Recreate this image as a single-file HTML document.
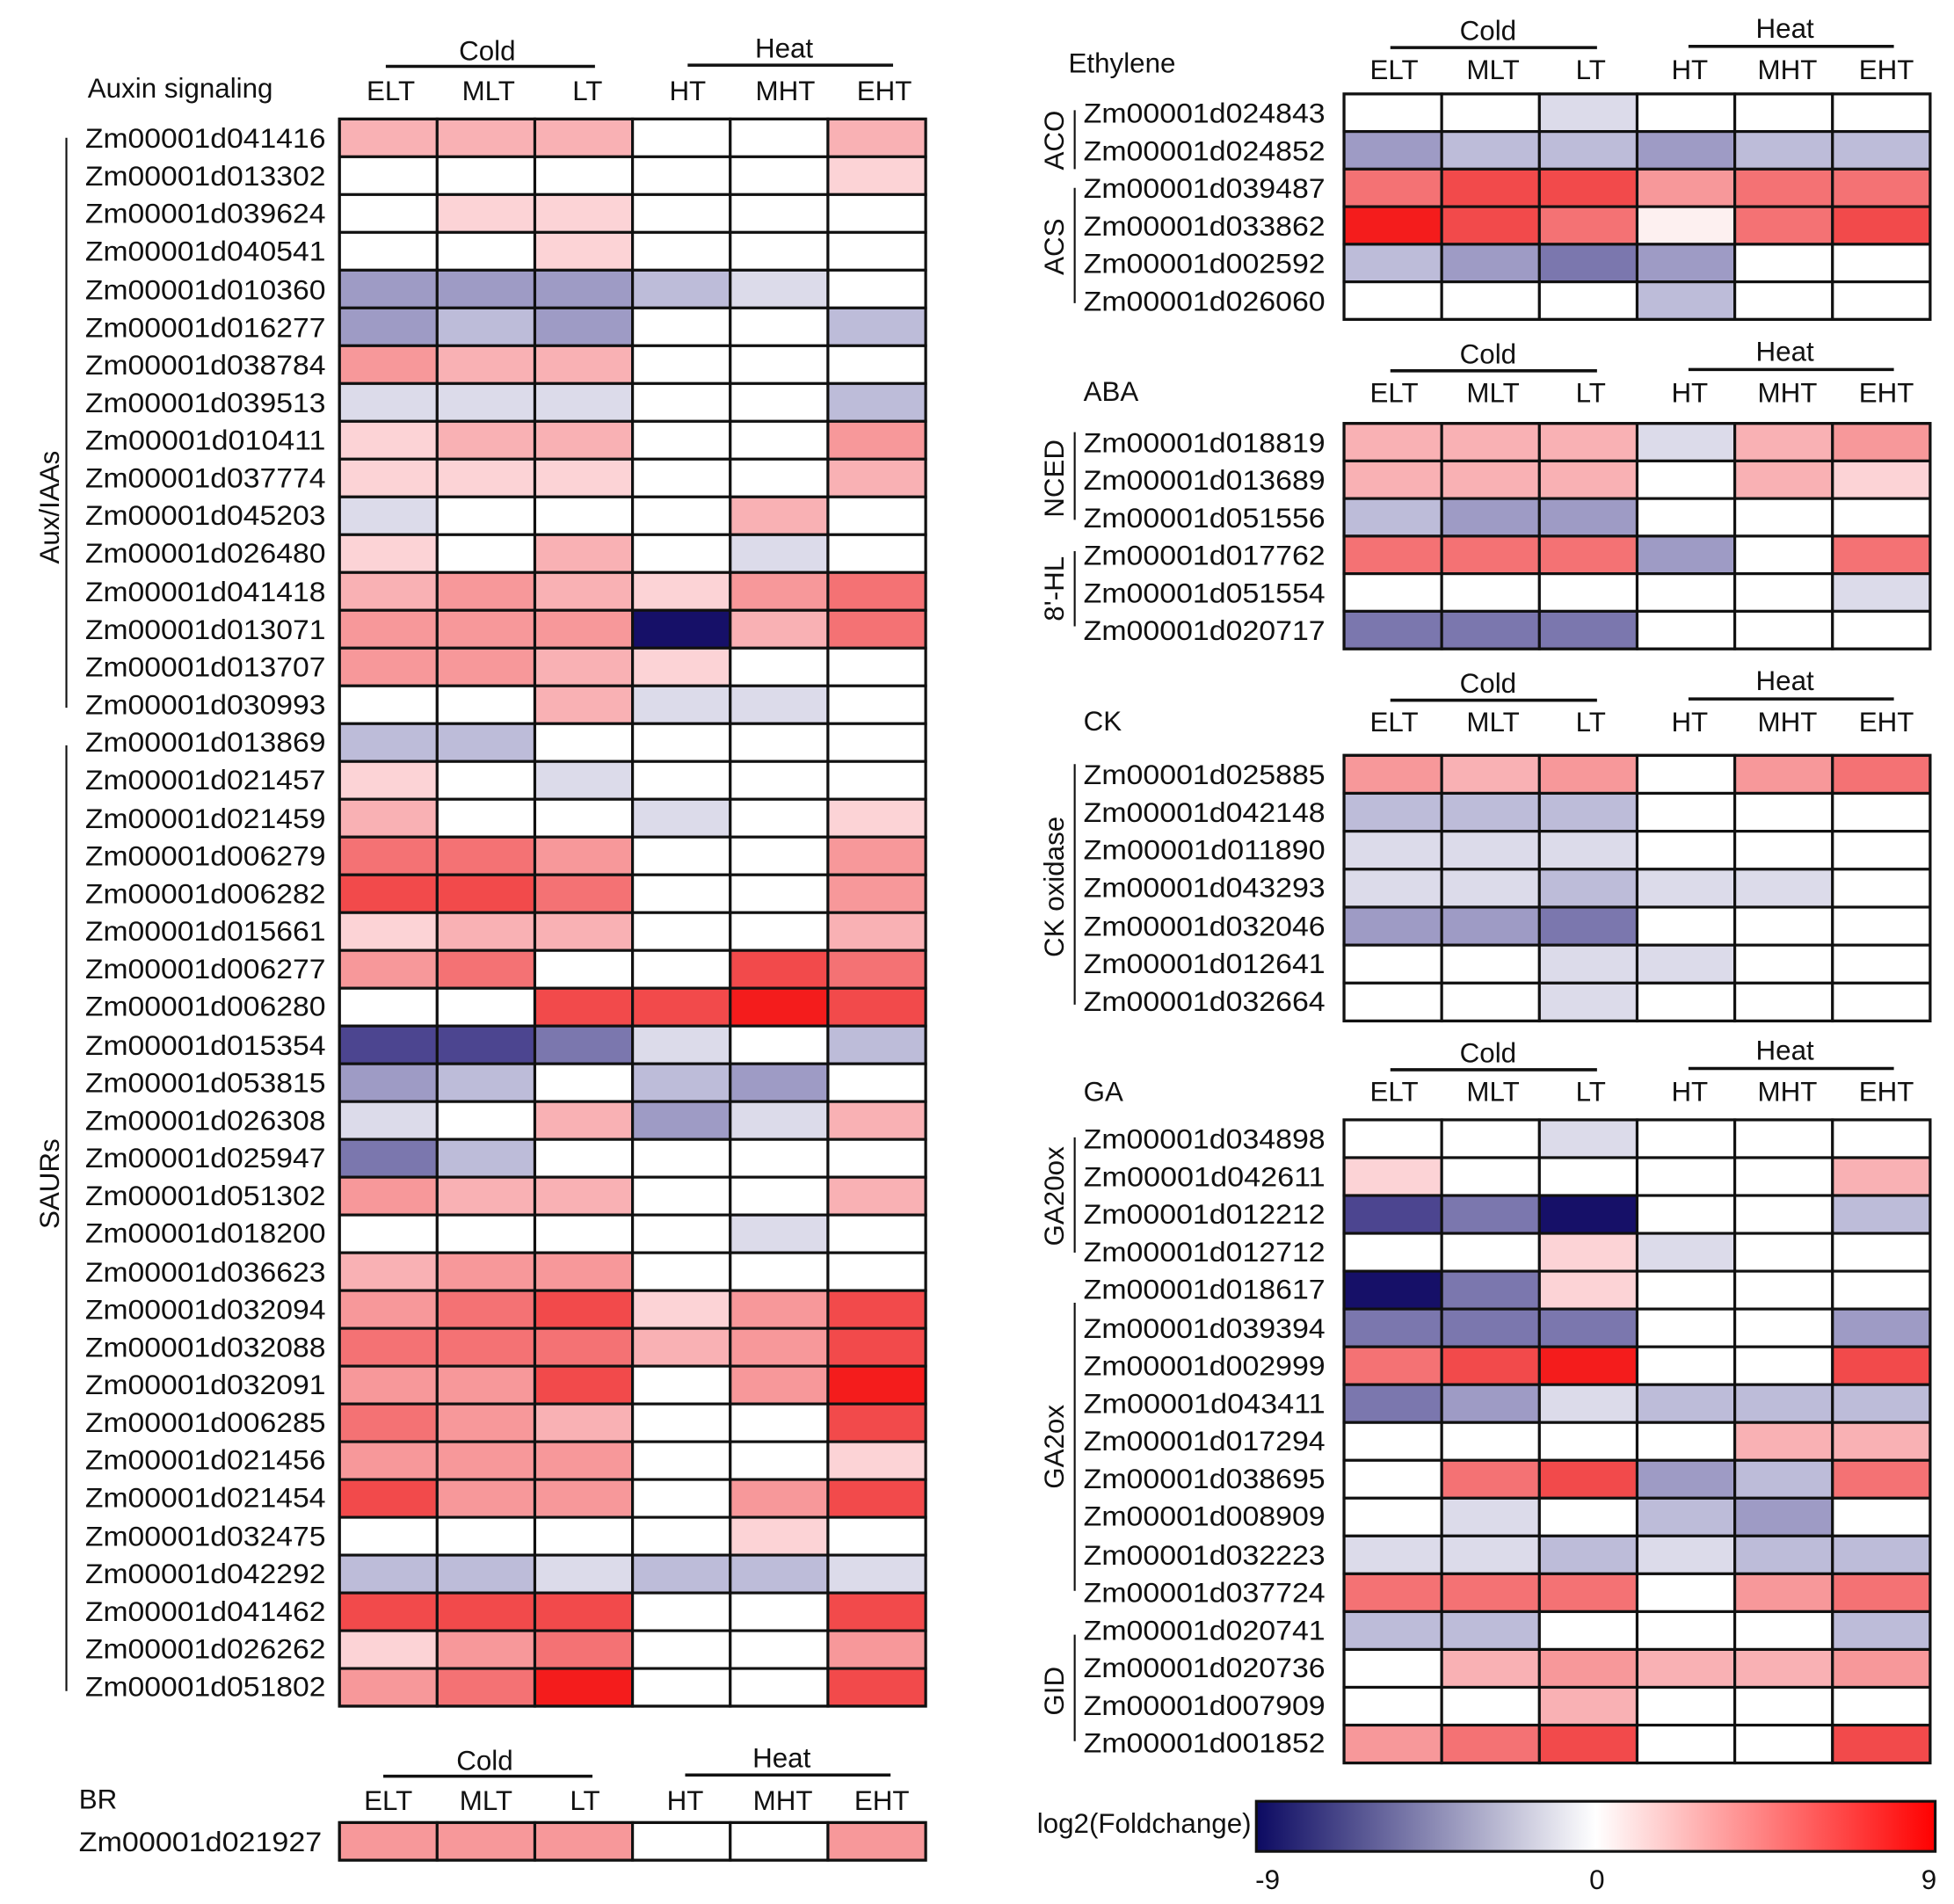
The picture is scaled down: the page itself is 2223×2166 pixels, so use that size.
<!DOCTYPE html>
<html><head><meta charset="utf-8"><style>
html,body{margin:0;padding:0;background:#fff}
svg{display:block}
text{font-family:"Liberation Sans",sans-serif;fill:#111}
.g{font-size:22px}
.h{font-size:22px}
rect{stroke:#111;stroke-width:2.2}
.w{fill:#fff}.r0{fill:#fdf0f0}.r1{fill:#fcd3d6}.r2{fill:#f9b1b4}.r3{fill:#f7989a}.r4{fill:#f47274}.r5{fill:#f24a4b}.r6{fill:#f41c1c}
.b1{fill:#dcdbea}.b2{fill:#bdbcd9}.b3{fill:#9e9bc5}.b4{fill:#7b77ae}.b5{fill:#4c4590}.b6{fill:#161068}
</style></head><body>
<svg width="2223" height="2166" viewBox="0 0 1560 1520" preserveAspectRatio="none" xmlns="http://www.w3.org/2000/svg">
<defs>
<g id="hdrL">
<text class="h" x="389" y="8" text-anchor="middle">Cold</text>
<line x1="308" y1="13" x2="475" y2="13" stroke="#111" stroke-width="2.5"/>
<text class="h" x="626" y="6" text-anchor="middle">Heat</text>
<line x1="549" y1="12" x2="713" y2="12" stroke="#111" stroke-width="2.5"/>
<text class="h" x="312" y="40" text-anchor="middle">ELT</text>
<text class="h" x="390" y="40" text-anchor="middle">MLT</text>
<text class="h" x="469" y="40" text-anchor="middle">LT</text>
<text class="h" x="549" y="40" text-anchor="middle">HT</text>
<text class="h" x="627" y="40" text-anchor="middle">MHT</text>
<text class="h" x="706" y="40" text-anchor="middle">EHT</text>
</g>
<g id="hdrR">
<text class="h" x="1188" y="8" text-anchor="middle">Cold</text>
<line x1="1110" y1="14" x2="1275" y2="14" stroke="#111" stroke-width="2.5"/>
<text class="h" x="1425" y="6" text-anchor="middle">Heat</text>
<line x1="1348" y1="13" x2="1512" y2="13" stroke="#111" stroke-width="2.5"/>
<text class="h" x="1113" y="39" text-anchor="middle">ELT</text>
<text class="h" x="1192" y="39" text-anchor="middle">MLT</text>
<text class="h" x="1270" y="39" text-anchor="middle">LT</text>
<text class="h" x="1349" y="39" text-anchor="middle">HT</text>
<text class="h" x="1427" y="39" text-anchor="middle">MHT</text>
<text class="h" x="1506" y="39" text-anchor="middle">EHT</text>
</g>
<linearGradient id="cb" x1="0" x2="1" y1="0" y2="0">
<stop offset="0" stop-color="#0c0a62"/><stop offset="0.5" stop-color="#ffffff"/><stop offset="1" stop-color="#ff0000"/>
</linearGradient>
</defs>

<!-- LEFT PANEL -->
<use href="#hdrL" y="40"/>
<text class="h" x="70" y="78">Auxin signaling</text>
<line x1="53" y1="110" x2="53" y2="565" stroke="#111" stroke-width="1.5"/>
<line x1="53" y1="595" x2="53" y2="1350" stroke="#111" stroke-width="1.5"/>
<text class="h" transform="translate(47,405) rotate(-90)" text-anchor="middle">Aux/IAAs</text>
<text class="h" transform="translate(47,945) rotate(-90)" text-anchor="middle">SAURs</text>
<g id="L">
<text class="g" x="68" y="118" textLength="192" lengthAdjust="spacingAndGlyphs">Zm00001d041416</text><rect x="271" y="95" width="78" height="30.17" class="r2"/><rect x="349" y="95" width="78" height="30.17" class="r2"/><rect x="427" y="95" width="78" height="30.17" class="r2"/><rect x="505" y="95" width="78" height="30.17" class="w"/><rect x="583" y="95" width="78" height="30.17" class="w"/><rect x="661" y="95" width="78" height="30.17" class="r2"/>
<text class="g" x="68" y="148" textLength="192" lengthAdjust="spacingAndGlyphs">Zm00001d013302</text><rect x="271" y="125.17" width="78" height="30.17" class="w"/><rect x="349" y="125.17" width="78" height="30.17" class="w"/><rect x="427" y="125.17" width="78" height="30.17" class="w"/><rect x="505" y="125.17" width="78" height="30.17" class="w"/><rect x="583" y="125.17" width="78" height="30.17" class="w"/><rect x="661" y="125.17" width="78" height="30.17" class="r1"/>
<text class="g" x="68" y="178" textLength="192" lengthAdjust="spacingAndGlyphs">Zm00001d039624</text><rect x="271" y="155.34" width="78" height="30.17" class="w"/><rect x="349" y="155.34" width="78" height="30.17" class="r1"/><rect x="427" y="155.34" width="78" height="30.17" class="r1"/><rect x="505" y="155.34" width="78" height="30.17" class="w"/><rect x="583" y="155.34" width="78" height="30.17" class="w"/><rect x="661" y="155.34" width="78" height="30.17" class="w"/>
<text class="g" x="68" y="208" textLength="192" lengthAdjust="spacingAndGlyphs">Zm00001d040541</text><rect x="271" y="185.51" width="78" height="30.17" class="w"/><rect x="349" y="185.51" width="78" height="30.17" class="w"/><rect x="427" y="185.51" width="78" height="30.17" class="r1"/><rect x="505" y="185.51" width="78" height="30.17" class="w"/><rect x="583" y="185.51" width="78" height="30.17" class="w"/><rect x="661" y="185.51" width="78" height="30.17" class="w"/>
<text class="g" x="68" y="239" textLength="192" lengthAdjust="spacingAndGlyphs">Zm00001d010360</text><rect x="271" y="215.68" width="78" height="30.17" class="b3"/><rect x="349" y="215.68" width="78" height="30.17" class="b3"/><rect x="427" y="215.68" width="78" height="30.17" class="b3"/><rect x="505" y="215.68" width="78" height="30.17" class="b2"/><rect x="583" y="215.68" width="78" height="30.17" class="b1"/><rect x="661" y="215.68" width="78" height="30.17" class="w"/>
<text class="g" x="68" y="269" textLength="192" lengthAdjust="spacingAndGlyphs">Zm00001d016277</text><rect x="271" y="245.85" width="78" height="30.17" class="b3"/><rect x="349" y="245.85" width="78" height="30.17" class="b2"/><rect x="427" y="245.85" width="78" height="30.17" class="b3"/><rect x="505" y="245.85" width="78" height="30.17" class="w"/><rect x="583" y="245.85" width="78" height="30.17" class="w"/><rect x="661" y="245.85" width="78" height="30.17" class="b2"/>
<text class="g" x="68" y="299" textLength="192" lengthAdjust="spacingAndGlyphs">Zm00001d038784</text><rect x="271" y="276.02" width="78" height="30.17" class="r3"/><rect x="349" y="276.02" width="78" height="30.17" class="r2"/><rect x="427" y="276.02" width="78" height="30.17" class="r2"/><rect x="505" y="276.02" width="78" height="30.17" class="w"/><rect x="583" y="276.02" width="78" height="30.17" class="w"/><rect x="661" y="276.02" width="78" height="30.17" class="w"/>
<text class="g" x="68" y="329" textLength="192" lengthAdjust="spacingAndGlyphs">Zm00001d039513</text><rect x="271" y="306.19" width="78" height="30.17" class="b1"/><rect x="349" y="306.19" width="78" height="30.17" class="b1"/><rect x="427" y="306.19" width="78" height="30.17" class="b1"/><rect x="505" y="306.19" width="78" height="30.17" class="w"/><rect x="583" y="306.19" width="78" height="30.17" class="w"/><rect x="661" y="306.19" width="78" height="30.17" class="b2"/>
<text class="g" x="68" y="359" textLength="192" lengthAdjust="spacingAndGlyphs">Zm00001d010411</text><rect x="271" y="336.36" width="78" height="30.17" class="r1"/><rect x="349" y="336.36" width="78" height="30.17" class="r2"/><rect x="427" y="336.36" width="78" height="30.17" class="r2"/><rect x="505" y="336.36" width="78" height="30.17" class="w"/><rect x="583" y="336.36" width="78" height="30.17" class="w"/><rect x="661" y="336.36" width="78" height="30.17" class="r3"/>
<text class="g" x="68" y="389" textLength="192" lengthAdjust="spacingAndGlyphs">Zm00001d037774</text><rect x="271" y="366.53" width="78" height="30.17" class="r1"/><rect x="349" y="366.53" width="78" height="30.17" class="r1"/><rect x="427" y="366.53" width="78" height="30.17" class="r1"/><rect x="505" y="366.53" width="78" height="30.17" class="w"/><rect x="583" y="366.53" width="78" height="30.17" class="w"/><rect x="661" y="366.53" width="78" height="30.17" class="r2"/>
<text class="g" x="68" y="419" textLength="192" lengthAdjust="spacingAndGlyphs">Zm00001d045203</text><rect x="271" y="396.7" width="78" height="30.17" class="b1"/><rect x="349" y="396.7" width="78" height="30.17" class="w"/><rect x="427" y="396.7" width="78" height="30.17" class="w"/><rect x="505" y="396.7" width="78" height="30.17" class="w"/><rect x="583" y="396.7" width="78" height="30.17" class="r2"/><rect x="661" y="396.7" width="78" height="30.17" class="w"/>
<text class="g" x="68" y="449" textLength="192" lengthAdjust="spacingAndGlyphs">Zm00001d026480</text><rect x="271" y="426.87" width="78" height="30.17" class="r1"/><rect x="349" y="426.87" width="78" height="30.17" class="w"/><rect x="427" y="426.87" width="78" height="30.17" class="r2"/><rect x="505" y="426.87" width="78" height="30.17" class="w"/><rect x="583" y="426.87" width="78" height="30.17" class="b1"/><rect x="661" y="426.87" width="78" height="30.17" class="w"/>
<text class="g" x="68" y="480" textLength="192" lengthAdjust="spacingAndGlyphs">Zm00001d041418</text><rect x="271" y="457.04" width="78" height="30.17" class="r2"/><rect x="349" y="457.04" width="78" height="30.17" class="r3"/><rect x="427" y="457.04" width="78" height="30.17" class="r2"/><rect x="505" y="457.04" width="78" height="30.17" class="r1"/><rect x="583" y="457.04" width="78" height="30.17" class="r3"/><rect x="661" y="457.04" width="78" height="30.17" class="r4"/>
<text class="g" x="68" y="510" textLength="192" lengthAdjust="spacingAndGlyphs">Zm00001d013071</text><rect x="271" y="487.21" width="78" height="30.17" class="r3"/><rect x="349" y="487.21" width="78" height="30.17" class="r3"/><rect x="427" y="487.21" width="78" height="30.17" class="r3"/><rect x="505" y="487.21" width="78" height="30.17" class="b6"/><rect x="583" y="487.21" width="78" height="30.17" class="r2"/><rect x="661" y="487.21" width="78" height="30.17" class="r4"/>
<text class="g" x="68" y="540" textLength="192" lengthAdjust="spacingAndGlyphs">Zm00001d013707</text><rect x="271" y="517.38" width="78" height="30.17" class="r3"/><rect x="349" y="517.38" width="78" height="30.17" class="r3"/><rect x="427" y="517.38" width="78" height="30.17" class="r2"/><rect x="505" y="517.38" width="78" height="30.17" class="r1"/><rect x="583" y="517.38" width="78" height="30.17" class="w"/><rect x="661" y="517.38" width="78" height="30.17" class="w"/>
<text class="g" x="68" y="570" textLength="192" lengthAdjust="spacingAndGlyphs">Zm00001d030993</text><rect x="271" y="547.55" width="78" height="30.17" class="w"/><rect x="349" y="547.55" width="78" height="30.17" class="w"/><rect x="427" y="547.55" width="78" height="30.17" class="r2"/><rect x="505" y="547.55" width="78" height="30.17" class="b1"/><rect x="583" y="547.55" width="78" height="30.17" class="b1"/><rect x="661" y="547.55" width="78" height="30.17" class="w"/>
<text class="g" x="68" y="600" textLength="192" lengthAdjust="spacingAndGlyphs">Zm00001d013869</text><rect x="271" y="577.72" width="78" height="30.17" class="b2"/><rect x="349" y="577.72" width="78" height="30.17" class="b2"/><rect x="427" y="577.72" width="78" height="30.17" class="w"/><rect x="505" y="577.72" width="78" height="30.17" class="w"/><rect x="583" y="577.72" width="78" height="30.17" class="w"/><rect x="661" y="577.72" width="78" height="30.17" class="w"/>
<text class="g" x="68" y="630" textLength="192" lengthAdjust="spacingAndGlyphs">Zm00001d021457</text><rect x="271" y="607.89" width="78" height="30.17" class="r1"/><rect x="349" y="607.89" width="78" height="30.17" class="w"/><rect x="427" y="607.89" width="78" height="30.17" class="b1"/><rect x="505" y="607.89" width="78" height="30.17" class="w"/><rect x="583" y="607.89" width="78" height="30.17" class="w"/><rect x="661" y="607.89" width="78" height="30.17" class="w"/>
<text class="g" x="68" y="661" textLength="192" lengthAdjust="spacingAndGlyphs">Zm00001d021459</text><rect x="271" y="638.06" width="78" height="30.17" class="r2"/><rect x="349" y="638.06" width="78" height="30.17" class="w"/><rect x="427" y="638.06" width="78" height="30.17" class="w"/><rect x="505" y="638.06" width="78" height="30.17" class="b1"/><rect x="583" y="638.06" width="78" height="30.17" class="w"/><rect x="661" y="638.06" width="78" height="30.17" class="r1"/>
<text class="g" x="68" y="691" textLength="192" lengthAdjust="spacingAndGlyphs">Zm00001d006279</text><rect x="271" y="668.23" width="78" height="30.17" class="r4"/><rect x="349" y="668.23" width="78" height="30.17" class="r4"/><rect x="427" y="668.23" width="78" height="30.17" class="r3"/><rect x="505" y="668.23" width="78" height="30.17" class="w"/><rect x="583" y="668.23" width="78" height="30.17" class="w"/><rect x="661" y="668.23" width="78" height="30.17" class="r3"/>
<text class="g" x="68" y="721" textLength="192" lengthAdjust="spacingAndGlyphs">Zm00001d006282</text><rect x="271" y="698.4" width="78" height="30.17" class="r5"/><rect x="349" y="698.4" width="78" height="30.17" class="r5"/><rect x="427" y="698.4" width="78" height="30.17" class="r4"/><rect x="505" y="698.4" width="78" height="30.17" class="w"/><rect x="583" y="698.4" width="78" height="30.17" class="w"/><rect x="661" y="698.4" width="78" height="30.17" class="r3"/>
<text class="g" x="68" y="751" textLength="192" lengthAdjust="spacingAndGlyphs">Zm00001d015661</text><rect x="271" y="728.57" width="78" height="30.17" class="r1"/><rect x="349" y="728.57" width="78" height="30.17" class="r2"/><rect x="427" y="728.57" width="78" height="30.17" class="r2"/><rect x="505" y="728.57" width="78" height="30.17" class="w"/><rect x="583" y="728.57" width="78" height="30.17" class="w"/><rect x="661" y="728.57" width="78" height="30.17" class="r2"/>
<text class="g" x="68" y="781" textLength="192" lengthAdjust="spacingAndGlyphs">Zm00001d006277</text><rect x="271" y="758.74" width="78" height="30.17" class="r3"/><rect x="349" y="758.74" width="78" height="30.17" class="r4"/><rect x="427" y="758.74" width="78" height="30.17" class="w"/><rect x="505" y="758.74" width="78" height="30.17" class="w"/><rect x="583" y="758.74" width="78" height="30.17" class="r5"/><rect x="661" y="758.74" width="78" height="30.17" class="r4"/>
<text class="g" x="68" y="811" textLength="192" lengthAdjust="spacingAndGlyphs">Zm00001d006280</text><rect x="271" y="788.91" width="78" height="30.17" class="w"/><rect x="349" y="788.91" width="78" height="30.17" class="w"/><rect x="427" y="788.91" width="78" height="30.17" class="r5"/><rect x="505" y="788.91" width="78" height="30.17" class="r5"/><rect x="583" y="788.91" width="78" height="30.17" class="r6"/><rect x="661" y="788.91" width="78" height="30.17" class="r5"/>
<text class="g" x="68" y="842" textLength="192" lengthAdjust="spacingAndGlyphs">Zm00001d015354</text><rect x="271" y="819.08" width="78" height="30.17" class="b5"/><rect x="349" y="819.08" width="78" height="30.17" class="b5"/><rect x="427" y="819.08" width="78" height="30.17" class="b4"/><rect x="505" y="819.08" width="78" height="30.17" class="b1"/><rect x="583" y="819.08" width="78" height="30.17" class="w"/><rect x="661" y="819.08" width="78" height="30.17" class="b2"/>
<text class="g" x="68" y="872" textLength="192" lengthAdjust="spacingAndGlyphs">Zm00001d053815</text><rect x="271" y="849.25" width="78" height="30.17" class="b3"/><rect x="349" y="849.25" width="78" height="30.17" class="b2"/><rect x="427" y="849.25" width="78" height="30.17" class="w"/><rect x="505" y="849.25" width="78" height="30.17" class="b2"/><rect x="583" y="849.25" width="78" height="30.17" class="b3"/><rect x="661" y="849.25" width="78" height="30.17" class="w"/>
<text class="g" x="68" y="902" textLength="192" lengthAdjust="spacingAndGlyphs">Zm00001d026308</text><rect x="271" y="879.42" width="78" height="30.17" class="b1"/><rect x="349" y="879.42" width="78" height="30.17" class="w"/><rect x="427" y="879.42" width="78" height="30.17" class="r2"/><rect x="505" y="879.42" width="78" height="30.17" class="b3"/><rect x="583" y="879.42" width="78" height="30.17" class="b1"/><rect x="661" y="879.42" width="78" height="30.17" class="r2"/>
<text class="g" x="68" y="932" textLength="192" lengthAdjust="spacingAndGlyphs">Zm00001d025947</text><rect x="271" y="909.59" width="78" height="30.17" class="b4"/><rect x="349" y="909.59" width="78" height="30.17" class="b2"/><rect x="427" y="909.59" width="78" height="30.17" class="w"/><rect x="505" y="909.59" width="78" height="30.17" class="w"/><rect x="583" y="909.59" width="78" height="30.17" class="w"/><rect x="661" y="909.59" width="78" height="30.17" class="w"/>
<text class="g" x="68" y="962" textLength="192" lengthAdjust="spacingAndGlyphs">Zm00001d051302</text><rect x="271" y="939.76" width="78" height="30.17" class="r3"/><rect x="349" y="939.76" width="78" height="30.17" class="r2"/><rect x="427" y="939.76" width="78" height="30.17" class="r2"/><rect x="505" y="939.76" width="78" height="30.17" class="w"/><rect x="583" y="939.76" width="78" height="30.17" class="w"/><rect x="661" y="939.76" width="78" height="30.17" class="r2"/>
<text class="g" x="68" y="992" textLength="192" lengthAdjust="spacingAndGlyphs">Zm00001d018200</text><rect x="271" y="969.93" width="78" height="30.17" class="w"/><rect x="349" y="969.93" width="78" height="30.17" class="w"/><rect x="427" y="969.93" width="78" height="30.17" class="w"/><rect x="505" y="969.93" width="78" height="30.17" class="w"/><rect x="583" y="969.93" width="78" height="30.17" class="b1"/><rect x="661" y="969.93" width="78" height="30.17" class="w"/>
<text class="g" x="68" y="1023" textLength="192" lengthAdjust="spacingAndGlyphs">Zm00001d036623</text><rect x="271" y="1000.1" width="78" height="30.17" class="r2"/><rect x="349" y="1000.1" width="78" height="30.17" class="r3"/><rect x="427" y="1000.1" width="78" height="30.17" class="r3"/><rect x="505" y="1000.1" width="78" height="30.17" class="w"/><rect x="583" y="1000.1" width="78" height="30.17" class="w"/><rect x="661" y="1000.1" width="78" height="30.17" class="w"/>
<text class="g" x="68" y="1053" textLength="192" lengthAdjust="spacingAndGlyphs">Zm00001d032094</text><rect x="271" y="1030.27" width="78" height="30.17" class="r3"/><rect x="349" y="1030.27" width="78" height="30.17" class="r4"/><rect x="427" y="1030.27" width="78" height="30.17" class="r5"/><rect x="505" y="1030.27" width="78" height="30.17" class="r1"/><rect x="583" y="1030.27" width="78" height="30.17" class="r3"/><rect x="661" y="1030.27" width="78" height="30.17" class="r5"/>
<text class="g" x="68" y="1083" textLength="192" lengthAdjust="spacingAndGlyphs">Zm00001d032088</text><rect x="271" y="1060.44" width="78" height="30.17" class="r4"/><rect x="349" y="1060.44" width="78" height="30.17" class="r4"/><rect x="427" y="1060.44" width="78" height="30.17" class="r4"/><rect x="505" y="1060.44" width="78" height="30.17" class="r2"/><rect x="583" y="1060.44" width="78" height="30.17" class="r3"/><rect x="661" y="1060.44" width="78" height="30.17" class="r5"/>
<text class="g" x="68" y="1113" textLength="192" lengthAdjust="spacingAndGlyphs">Zm00001d032091</text><rect x="271" y="1090.61" width="78" height="30.17" class="r3"/><rect x="349" y="1090.61" width="78" height="30.17" class="r3"/><rect x="427" y="1090.61" width="78" height="30.17" class="r5"/><rect x="505" y="1090.61" width="78" height="30.17" class="w"/><rect x="583" y="1090.61" width="78" height="30.17" class="r3"/><rect x="661" y="1090.61" width="78" height="30.17" class="r6"/>
<text class="g" x="68" y="1143" textLength="192" lengthAdjust="spacingAndGlyphs">Zm00001d006285</text><rect x="271" y="1120.78" width="78" height="30.17" class="r4"/><rect x="349" y="1120.78" width="78" height="30.17" class="r3"/><rect x="427" y="1120.78" width="78" height="30.17" class="r2"/><rect x="505" y="1120.78" width="78" height="30.17" class="w"/><rect x="583" y="1120.78" width="78" height="30.17" class="w"/><rect x="661" y="1120.78" width="78" height="30.17" class="r5"/>
<text class="g" x="68" y="1173" textLength="192" lengthAdjust="spacingAndGlyphs">Zm00001d021456</text><rect x="271" y="1150.95" width="78" height="30.17" class="r3"/><rect x="349" y="1150.95" width="78" height="30.17" class="r3"/><rect x="427" y="1150.95" width="78" height="30.17" class="r3"/><rect x="505" y="1150.95" width="78" height="30.17" class="w"/><rect x="583" y="1150.95" width="78" height="30.17" class="w"/><rect x="661" y="1150.95" width="78" height="30.17" class="r1"/>
<text class="g" x="68" y="1203" textLength="192" lengthAdjust="spacingAndGlyphs">Zm00001d021454</text><rect x="271" y="1181.12" width="78" height="30.17" class="r5"/><rect x="349" y="1181.12" width="78" height="30.17" class="r3"/><rect x="427" y="1181.12" width="78" height="30.17" class="r3"/><rect x="505" y="1181.12" width="78" height="30.17" class="w"/><rect x="583" y="1181.12" width="78" height="30.17" class="r3"/><rect x="661" y="1181.12" width="78" height="30.17" class="r5"/>
<text class="g" x="68" y="1234" textLength="192" lengthAdjust="spacingAndGlyphs">Zm00001d032475</text><rect x="271" y="1211.29" width="78" height="30.17" class="w"/><rect x="349" y="1211.29" width="78" height="30.17" class="w"/><rect x="427" y="1211.29" width="78" height="30.17" class="w"/><rect x="505" y="1211.29" width="78" height="30.17" class="w"/><rect x="583" y="1211.29" width="78" height="30.17" class="r1"/><rect x="661" y="1211.29" width="78" height="30.17" class="w"/>
<text class="g" x="68" y="1264" textLength="192" lengthAdjust="spacingAndGlyphs">Zm00001d042292</text><rect x="271" y="1241.46" width="78" height="30.17" class="b2"/><rect x="349" y="1241.46" width="78" height="30.17" class="b2"/><rect x="427" y="1241.46" width="78" height="30.17" class="b1"/><rect x="505" y="1241.46" width="78" height="30.17" class="b2"/><rect x="583" y="1241.46" width="78" height="30.17" class="b2"/><rect x="661" y="1241.46" width="78" height="30.17" class="b1"/>
<text class="g" x="68" y="1294" textLength="192" lengthAdjust="spacingAndGlyphs">Zm00001d041462</text><rect x="271" y="1271.63" width="78" height="30.17" class="r5"/><rect x="349" y="1271.63" width="78" height="30.17" class="r5"/><rect x="427" y="1271.63" width="78" height="30.17" class="r5"/><rect x="505" y="1271.63" width="78" height="30.17" class="w"/><rect x="583" y="1271.63" width="78" height="30.17" class="w"/><rect x="661" y="1271.63" width="78" height="30.17" class="r5"/>
<text class="g" x="68" y="1324" textLength="192" lengthAdjust="spacingAndGlyphs">Zm00001d026262</text><rect x="271" y="1301.8" width="78" height="30.17" class="r1"/><rect x="349" y="1301.8" width="78" height="30.17" class="r3"/><rect x="427" y="1301.8" width="78" height="30.17" class="r4"/><rect x="505" y="1301.8" width="78" height="30.17" class="w"/><rect x="583" y="1301.8" width="78" height="30.17" class="w"/><rect x="661" y="1301.8" width="78" height="30.17" class="r3"/>
<text class="g" x="68" y="1354" textLength="192" lengthAdjust="spacingAndGlyphs">Zm00001d051802</text><rect x="271" y="1331.97" width="78" height="30.17" class="r3"/><rect x="349" y="1331.97" width="78" height="30.17" class="r4"/><rect x="427" y="1331.97" width="78" height="30.17" class="r6"/><rect x="505" y="1331.97" width="78" height="30.17" class="w"/><rect x="583" y="1331.97" width="78" height="30.17" class="w"/><rect x="661" y="1331.97" width="78" height="30.17" class="r5"/>
</g>
<rect x="271" y="95" width="468" height="1267" fill="none" stroke-width="3"/>

<!-- BR -->
<use href="#hdrL" x="-2" y="1405"/>
<text class="h" x="63" y="1444">BR</text>
<text class="g" x="63" y="1478" textLength="194" lengthAdjust="spacingAndGlyphs">Zm00001d021927</text>
<rect x="271" y="1455" width="78" height="30" class="r3"/><rect x="349" y="1455" width="78" height="30" class="r3"/><rect x="427" y="1455" width="78" height="30" class="r3"/><rect x="505" y="1455" width="78" height="30" class="w"/><rect x="583" y="1455" width="78" height="30" class="w"/><rect x="661" y="1455" width="78" height="30" class="r3"/>
<rect x="271" y="1455" width="468" height="30" fill="none" stroke-width="3"/>

<!-- ETHYLENE -->
<use href="#hdrR" y="24"/>
<text class="h" x="853" y="58">Ethylene</text>
<line x1="858" y1="88" x2="858" y2="135" stroke="#111" stroke-width="1.5"/>
<line x1="858" y1="150" x2="858" y2="242" stroke="#111" stroke-width="1.5"/>
<text class="h" transform="translate(849,112) rotate(-90)" text-anchor="middle">ACO</text>
<text class="h" transform="translate(849,197) rotate(-90)" text-anchor="middle">ACS</text>
<text class="g" x="865" y="98" textLength="193" lengthAdjust="spacingAndGlyphs">Zm00001d024843</text><rect x="1073" y="75" width="78" height="30" class="w"/><rect x="1151" y="75" width="78" height="30" class="w"/><rect x="1229" y="75" width="78" height="30" class="b1"/><rect x="1307" y="75" width="78" height="30" class="w"/><rect x="1385" y="75" width="78" height="30" class="w"/><rect x="1463" y="75" width="78" height="30" class="w"/>
<text class="g" x="865" y="128" textLength="193" lengthAdjust="spacingAndGlyphs">Zm00001d024852</text><rect x="1073" y="105" width="78" height="30" class="b3"/><rect x="1151" y="105" width="78" height="30" class="b2"/><rect x="1229" y="105" width="78" height="30" class="b2"/><rect x="1307" y="105" width="78" height="30" class="b3"/><rect x="1385" y="105" width="78" height="30" class="b2"/><rect x="1463" y="105" width="78" height="30" class="b2"/>
<text class="g" x="865" y="158" textLength="193" lengthAdjust="spacingAndGlyphs">Zm00001d039487</text><rect x="1073" y="135" width="78" height="30" class="r4"/><rect x="1151" y="135" width="78" height="30" class="r5"/><rect x="1229" y="135" width="78" height="30" class="r5"/><rect x="1307" y="135" width="78" height="30" class="r3"/><rect x="1385" y="135" width="78" height="30" class="r4"/><rect x="1463" y="135" width="78" height="30" class="r4"/>
<text class="g" x="865" y="188" textLength="193" lengthAdjust="spacingAndGlyphs">Zm00001d033862</text><rect x="1073" y="165" width="78" height="30" class="r6"/><rect x="1151" y="165" width="78" height="30" class="r5"/><rect x="1229" y="165" width="78" height="30" class="r4"/><rect x="1307" y="165" width="78" height="30" class="r0"/><rect x="1385" y="165" width="78" height="30" class="r4"/><rect x="1463" y="165" width="78" height="30" class="r5"/>
<text class="g" x="865" y="218" textLength="193" lengthAdjust="spacingAndGlyphs">Zm00001d002592</text><rect x="1073" y="195" width="78" height="30" class="b2"/><rect x="1151" y="195" width="78" height="30" class="b3"/><rect x="1229" y="195" width="78" height="30" class="b4"/><rect x="1307" y="195" width="78" height="30" class="b3"/><rect x="1385" y="195" width="78" height="30" class="w"/><rect x="1463" y="195" width="78" height="30" class="w"/>
<text class="g" x="865" y="248" textLength="193" lengthAdjust="spacingAndGlyphs">Zm00001d026060</text><rect x="1073" y="225" width="78" height="30" class="w"/><rect x="1151" y="225" width="78" height="30" class="w"/><rect x="1229" y="225" width="78" height="30" class="w"/><rect x="1307" y="225" width="78" height="30" class="b2"/><rect x="1385" y="225" width="78" height="30" class="w"/><rect x="1463" y="225" width="78" height="30" class="w"/>
<rect x="1073" y="75" width="468" height="180" fill="none" stroke-width="3"/>

<!-- ABA -->
<use href="#hdrR" y="282"/>
<text class="h" x="865" y="320">ABA</text>
<line x1="858" y1="345" x2="858" y2="415" stroke="#111" stroke-width="1.5"/>
<line x1="858" y1="440" x2="858" y2="500" stroke="#111" stroke-width="1.5"/>
<text class="h" transform="translate(849,382) rotate(-90)" text-anchor="middle">NCED</text>
<text class="h" transform="translate(849,470) rotate(-90)" text-anchor="middle">8'-HL</text>
<text class="g" x="865" y="361" textLength="193" lengthAdjust="spacingAndGlyphs">Zm00001d018819</text><rect x="1073" y="338" width="78" height="30" class="r2"/><rect x="1151" y="338" width="78" height="30" class="r2"/><rect x="1229" y="338" width="78" height="30" class="r2"/><rect x="1307" y="338" width="78" height="30" class="b1"/><rect x="1385" y="338" width="78" height="30" class="r2"/><rect x="1463" y="338" width="78" height="30" class="r3"/>
<text class="g" x="865" y="391" textLength="193" lengthAdjust="spacingAndGlyphs">Zm00001d013689</text><rect x="1073" y="368" width="78" height="30" class="r2"/><rect x="1151" y="368" width="78" height="30" class="r2"/><rect x="1229" y="368" width="78" height="30" class="r2"/><rect x="1307" y="368" width="78" height="30" class="w"/><rect x="1385" y="368" width="78" height="30" class="r2"/><rect x="1463" y="368" width="78" height="30" class="r1"/>
<text class="g" x="865" y="421" textLength="193" lengthAdjust="spacingAndGlyphs">Zm00001d051556</text><rect x="1073" y="398" width="78" height="30" class="b2"/><rect x="1151" y="398" width="78" height="30" class="b3"/><rect x="1229" y="398" width="78" height="30" class="b3"/><rect x="1307" y="398" width="78" height="30" class="w"/><rect x="1385" y="398" width="78" height="30" class="w"/><rect x="1463" y="398" width="78" height="30" class="w"/>
<text class="g" x="865" y="451" textLength="193" lengthAdjust="spacingAndGlyphs">Zm00001d017762</text><rect x="1073" y="428" width="78" height="30" class="r4"/><rect x="1151" y="428" width="78" height="30" class="r4"/><rect x="1229" y="428" width="78" height="30" class="r4"/><rect x="1307" y="428" width="78" height="30" class="b3"/><rect x="1385" y="428" width="78" height="30" class="w"/><rect x="1463" y="428" width="78" height="30" class="r4"/>
<text class="g" x="865" y="481" textLength="193" lengthAdjust="spacingAndGlyphs">Zm00001d051554</text><rect x="1073" y="458" width="78" height="30" class="w"/><rect x="1151" y="458" width="78" height="30" class="w"/><rect x="1229" y="458" width="78" height="30" class="w"/><rect x="1307" y="458" width="78" height="30" class="w"/><rect x="1385" y="458" width="78" height="30" class="w"/><rect x="1463" y="458" width="78" height="30" class="b1"/>
<text class="g" x="865" y="511" textLength="193" lengthAdjust="spacingAndGlyphs">Zm00001d020717</text><rect x="1073" y="488" width="78" height="30" class="b4"/><rect x="1151" y="488" width="78" height="30" class="b4"/><rect x="1229" y="488" width="78" height="30" class="b4"/><rect x="1307" y="488" width="78" height="30" class="w"/><rect x="1385" y="488" width="78" height="30" class="w"/><rect x="1463" y="488" width="78" height="30" class="w"/>
<rect x="1073" y="338" width="468" height="180" fill="none" stroke-width="3"/>

<!-- CK -->
<use href="#hdrR" y="545"/>
<text class="h" x="865" y="583">CK</text>
<line x1="858" y1="610" x2="858" y2="802" stroke="#111" stroke-width="1.5"/>
<text class="h" transform="translate(849,708) rotate(-90)" text-anchor="middle">CK oxidase</text>
<text class="g" x="865" y="626" textLength="193" lengthAdjust="spacingAndGlyphs">Zm00001d025885</text><rect x="1073" y="603" width="78" height="30.3" class="r3"/><rect x="1151" y="603" width="78" height="30.3" class="r2"/><rect x="1229" y="603" width="78" height="30.3" class="r3"/><rect x="1307" y="603" width="78" height="30.3" class="w"/><rect x="1385" y="603" width="78" height="30.3" class="r3"/><rect x="1463" y="603" width="78" height="30.3" class="r4"/>
<text class="g" x="865" y="656" textLength="193" lengthAdjust="spacingAndGlyphs">Zm00001d042148</text><rect x="1073" y="633.3" width="78" height="30.3" class="b2"/><rect x="1151" y="633.3" width="78" height="30.3" class="b2"/><rect x="1229" y="633.3" width="78" height="30.3" class="b2"/><rect x="1307" y="633.3" width="78" height="30.3" class="w"/><rect x="1385" y="633.3" width="78" height="30.3" class="w"/><rect x="1463" y="633.3" width="78" height="30.3" class="w"/>
<text class="g" x="865" y="686" textLength="193" lengthAdjust="spacingAndGlyphs">Zm00001d011890</text><rect x="1073" y="663.6" width="78" height="30.3" class="b1"/><rect x="1151" y="663.6" width="78" height="30.3" class="b1"/><rect x="1229" y="663.6" width="78" height="30.3" class="b1"/><rect x="1307" y="663.6" width="78" height="30.3" class="w"/><rect x="1385" y="663.6" width="78" height="30.3" class="w"/><rect x="1463" y="663.6" width="78" height="30.3" class="w"/>
<text class="g" x="865" y="716" textLength="193" lengthAdjust="spacingAndGlyphs">Zm00001d043293</text><rect x="1073" y="693.9" width="78" height="30.3" class="b1"/><rect x="1151" y="693.9" width="78" height="30.3" class="b1"/><rect x="1229" y="693.9" width="78" height="30.3" class="b2"/><rect x="1307" y="693.9" width="78" height="30.3" class="b1"/><rect x="1385" y="693.9" width="78" height="30.3" class="b1"/><rect x="1463" y="693.9" width="78" height="30.3" class="w"/>
<text class="g" x="865" y="747" textLength="193" lengthAdjust="spacingAndGlyphs">Zm00001d032046</text><rect x="1073" y="724.2" width="78" height="30.3" class="b3"/><rect x="1151" y="724.2" width="78" height="30.3" class="b3"/><rect x="1229" y="724.2" width="78" height="30.3" class="b4"/><rect x="1307" y="724.2" width="78" height="30.3" class="w"/><rect x="1385" y="724.2" width="78" height="30.3" class="w"/><rect x="1463" y="724.2" width="78" height="30.3" class="w"/>
<text class="g" x="865" y="777" textLength="193" lengthAdjust="spacingAndGlyphs">Zm00001d012641</text><rect x="1073" y="754.5" width="78" height="30.3" class="w"/><rect x="1151" y="754.5" width="78" height="30.3" class="w"/><rect x="1229" y="754.5" width="78" height="30.3" class="b1"/><rect x="1307" y="754.5" width="78" height="30.3" class="b1"/><rect x="1385" y="754.5" width="78" height="30.3" class="w"/><rect x="1463" y="754.5" width="78" height="30.3" class="w"/>
<text class="g" x="865" y="807" textLength="193" lengthAdjust="spacingAndGlyphs">Zm00001d032664</text><rect x="1073" y="784.8" width="78" height="30.3" class="w"/><rect x="1151" y="784.8" width="78" height="30.3" class="w"/><rect x="1229" y="784.8" width="78" height="30.3" class="b1"/><rect x="1307" y="784.8" width="78" height="30.3" class="w"/><rect x="1385" y="784.8" width="78" height="30.3" class="w"/><rect x="1463" y="784.8" width="78" height="30.3" class="w"/>
<rect x="1073" y="603" width="468" height="212" fill="none" stroke-width="3"/>

<!-- GA -->
<use href="#hdrR" y="840"/>
<text class="h" x="865" y="879">GA</text>
<line x1="858" y1="908" x2="858" y2="1000" stroke="#111" stroke-width="1.5"/>
<line x1="858" y1="1040" x2="858" y2="1270" stroke="#111" stroke-width="1.5"/>
<line x1="858" y1="1305" x2="858" y2="1390" stroke="#111" stroke-width="1.5"/>
<text class="h" transform="translate(849,955) rotate(-90)" text-anchor="middle">GA20ox</text>
<text class="h" transform="translate(849,1155) rotate(-90)" text-anchor="middle">GA2ox</text>
<text class="h" transform="translate(849,1350) rotate(-90)" text-anchor="middle">GID</text>
<text class="g" x="865" y="917" textLength="193" lengthAdjust="spacingAndGlyphs">Zm00001d034898</text><rect x="1073" y="894" width="78" height="30.2" class="w"/><rect x="1151" y="894" width="78" height="30.2" class="w"/><rect x="1229" y="894" width="78" height="30.2" class="b1"/><rect x="1307" y="894" width="78" height="30.2" class="w"/><rect x="1385" y="894" width="78" height="30.2" class="w"/><rect x="1463" y="894" width="78" height="30.2" class="w"/>
<text class="g" x="865" y="947" textLength="193" lengthAdjust="spacingAndGlyphs">Zm00001d042611</text><rect x="1073" y="924.2" width="78" height="30.2" class="r1"/><rect x="1151" y="924.2" width="78" height="30.2" class="w"/><rect x="1229" y="924.2" width="78" height="30.2" class="w"/><rect x="1307" y="924.2" width="78" height="30.2" class="w"/><rect x="1385" y="924.2" width="78" height="30.2" class="w"/><rect x="1463" y="924.2" width="78" height="30.2" class="r2"/>
<text class="g" x="865" y="977" textLength="193" lengthAdjust="spacingAndGlyphs">Zm00001d012212</text><rect x="1073" y="954.4" width="78" height="30.2" class="b5"/><rect x="1151" y="954.4" width="78" height="30.2" class="b4"/><rect x="1229" y="954.4" width="78" height="30.2" class="b6"/><rect x="1307" y="954.4" width="78" height="30.2" class="w"/><rect x="1385" y="954.4" width="78" height="30.2" class="w"/><rect x="1463" y="954.4" width="78" height="30.2" class="b2"/>
<text class="g" x="865" y="1007" textLength="193" lengthAdjust="spacingAndGlyphs">Zm00001d012712</text><rect x="1073" y="984.6" width="78" height="30.2" class="w"/><rect x="1151" y="984.6" width="78" height="30.2" class="w"/><rect x="1229" y="984.6" width="78" height="30.2" class="r1"/><rect x="1307" y="984.6" width="78" height="30.2" class="b1"/><rect x="1385" y="984.6" width="78" height="30.2" class="w"/><rect x="1463" y="984.6" width="78" height="30.2" class="w"/>
<text class="g" x="865" y="1037" textLength="193" lengthAdjust="spacingAndGlyphs">Zm00001d018617</text><rect x="1073" y="1014.8" width="78" height="30.2" class="b6"/><rect x="1151" y="1014.8" width="78" height="30.2" class="b4"/><rect x="1229" y="1014.8" width="78" height="30.2" class="r1"/><rect x="1307" y="1014.8" width="78" height="30.2" class="w"/><rect x="1385" y="1014.8" width="78" height="30.2" class="w"/><rect x="1463" y="1014.8" width="78" height="30.2" class="w"/>
<text class="g" x="865" y="1068" textLength="193" lengthAdjust="spacingAndGlyphs">Zm00001d039394</text><rect x="1073" y="1045" width="78" height="30.2" class="b4"/><rect x="1151" y="1045" width="78" height="30.2" class="b4"/><rect x="1229" y="1045" width="78" height="30.2" class="b4"/><rect x="1307" y="1045" width="78" height="30.2" class="w"/><rect x="1385" y="1045" width="78" height="30.2" class="w"/><rect x="1463" y="1045" width="78" height="30.2" class="b3"/>
<text class="g" x="865" y="1098" textLength="193" lengthAdjust="spacingAndGlyphs">Zm00001d002999</text><rect x="1073" y="1075.2" width="78" height="30.2" class="r4"/><rect x="1151" y="1075.2" width="78" height="30.2" class="r5"/><rect x="1229" y="1075.2" width="78" height="30.2" class="r6"/><rect x="1307" y="1075.2" width="78" height="30.2" class="w"/><rect x="1385" y="1075.2" width="78" height="30.2" class="w"/><rect x="1463" y="1075.2" width="78" height="30.2" class="r5"/>
<text class="g" x="865" y="1128" textLength="193" lengthAdjust="spacingAndGlyphs">Zm00001d043411</text><rect x="1073" y="1105.4" width="78" height="30.2" class="b4"/><rect x="1151" y="1105.4" width="78" height="30.2" class="b3"/><rect x="1229" y="1105.4" width="78" height="30.2" class="b1"/><rect x="1307" y="1105.4" width="78" height="30.2" class="b2"/><rect x="1385" y="1105.4" width="78" height="30.2" class="b2"/><rect x="1463" y="1105.4" width="78" height="30.2" class="b2"/>
<text class="g" x="865" y="1158" textLength="193" lengthAdjust="spacingAndGlyphs">Zm00001d017294</text><rect x="1073" y="1135.6" width="78" height="30.2" class="w"/><rect x="1151" y="1135.6" width="78" height="30.2" class="w"/><rect x="1229" y="1135.6" width="78" height="30.2" class="w"/><rect x="1307" y="1135.6" width="78" height="30.2" class="w"/><rect x="1385" y="1135.6" width="78" height="30.2" class="r2"/><rect x="1463" y="1135.6" width="78" height="30.2" class="r2"/>
<text class="g" x="865" y="1188" textLength="193" lengthAdjust="spacingAndGlyphs">Zm00001d038695</text><rect x="1073" y="1165.8" width="78" height="30.2" class="w"/><rect x="1151" y="1165.8" width="78" height="30.2" class="r4"/><rect x="1229" y="1165.8" width="78" height="30.2" class="r5"/><rect x="1307" y="1165.8" width="78" height="30.2" class="b3"/><rect x="1385" y="1165.8" width="78" height="30.2" class="b2"/><rect x="1463" y="1165.8" width="78" height="30.2" class="r4"/>
<text class="g" x="865" y="1218" textLength="193" lengthAdjust="spacingAndGlyphs">Zm00001d008909</text><rect x="1073" y="1196" width="78" height="30.2" class="w"/><rect x="1151" y="1196" width="78" height="30.2" class="b1"/><rect x="1229" y="1196" width="78" height="30.2" class="w"/><rect x="1307" y="1196" width="78" height="30.2" class="b2"/><rect x="1385" y="1196" width="78" height="30.2" class="b3"/><rect x="1463" y="1196" width="78" height="30.2" class="w"/>
<text class="g" x="865" y="1249" textLength="193" lengthAdjust="spacingAndGlyphs">Zm00001d032223</text><rect x="1073" y="1226.2" width="78" height="30.2" class="b1"/><rect x="1151" y="1226.2" width="78" height="30.2" class="b1"/><rect x="1229" y="1226.2" width="78" height="30.2" class="b2"/><rect x="1307" y="1226.2" width="78" height="30.2" class="b1"/><rect x="1385" y="1226.2" width="78" height="30.2" class="b2"/><rect x="1463" y="1226.2" width="78" height="30.2" class="b2"/>
<text class="g" x="865" y="1279" textLength="193" lengthAdjust="spacingAndGlyphs">Zm00001d037724</text><rect x="1073" y="1256.4" width="78" height="30.2" class="r4"/><rect x="1151" y="1256.4" width="78" height="30.2" class="r4"/><rect x="1229" y="1256.4" width="78" height="30.2" class="r4"/><rect x="1307" y="1256.4" width="78" height="30.2" class="w"/><rect x="1385" y="1256.4" width="78" height="30.2" class="r3"/><rect x="1463" y="1256.4" width="78" height="30.2" class="r4"/>
<text class="g" x="865" y="1309" textLength="193" lengthAdjust="spacingAndGlyphs">Zm00001d020741</text><rect x="1073" y="1286.6" width="78" height="30.2" class="b2"/><rect x="1151" y="1286.6" width="78" height="30.2" class="b2"/><rect x="1229" y="1286.6" width="78" height="30.2" class="w"/><rect x="1307" y="1286.6" width="78" height="30.2" class="w"/><rect x="1385" y="1286.6" width="78" height="30.2" class="w"/><rect x="1463" y="1286.6" width="78" height="30.2" class="b2"/>
<text class="g" x="865" y="1339" textLength="193" lengthAdjust="spacingAndGlyphs">Zm00001d020736</text><rect x="1073" y="1316.8" width="78" height="30.2" class="w"/><rect x="1151" y="1316.8" width="78" height="30.2" class="r2"/><rect x="1229" y="1316.8" width="78" height="30.2" class="r3"/><rect x="1307" y="1316.8" width="78" height="30.2" class="r2"/><rect x="1385" y="1316.8" width="78" height="30.2" class="r2"/><rect x="1463" y="1316.8" width="78" height="30.2" class="r3"/>
<text class="g" x="865" y="1369" textLength="193" lengthAdjust="spacingAndGlyphs">Zm00001d007909</text><rect x="1073" y="1347" width="78" height="30.2" class="w"/><rect x="1151" y="1347" width="78" height="30.2" class="w"/><rect x="1229" y="1347" width="78" height="30.2" class="r2"/><rect x="1307" y="1347" width="78" height="30.2" class="w"/><rect x="1385" y="1347" width="78" height="30.2" class="w"/><rect x="1463" y="1347" width="78" height="30.2" class="w"/>
<text class="g" x="865" y="1399" textLength="193" lengthAdjust="spacingAndGlyphs">Zm00001d001852</text><rect x="1073" y="1377.2" width="78" height="30.2" class="r3"/><rect x="1151" y="1377.2" width="78" height="30.2" class="r4"/><rect x="1229" y="1377.2" width="78" height="30.2" class="r5"/><rect x="1307" y="1377.2" width="78" height="30.2" class="w"/><rect x="1385" y="1377.2" width="78" height="30.2" class="w"/><rect x="1463" y="1377.2" width="78" height="30.2" class="r5"/>
<rect x="1073" y="894" width="468" height="513.4" fill="none" stroke-width="3"/>

<!-- colorbar -->
<rect x="1003" y="1438" width="542" height="40" fill="url(#cb)" stroke="none"/>
<text class="h" x="999" y="1463" text-anchor="end">log2(Foldchange)</text>
<text class="h" x="1012" y="1508" text-anchor="middle">-9</text>
<text class="h" x="1275" y="1508" text-anchor="middle">0</text>
<text class="h" x="1540" y="1508" text-anchor="middle">9</text>
</svg>
</body></html>
